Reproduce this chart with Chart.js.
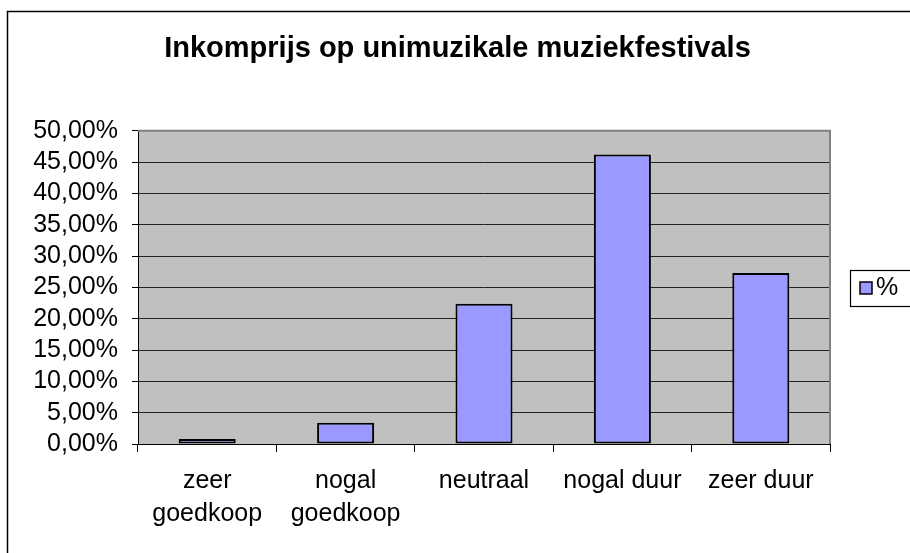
<!DOCTYPE html>
<html>
<head>
<meta charset="utf-8">
<script src="https://cdn.jsdelivr.net/npm/chart.js@4/dist/chart.umd.min.js"></script>
<style>
  html, body { margin: 0; padding: 0; background: #fff; }
  #wrap { width: 910px; height: 553px; }
</style>
</head>
<body>
<div id="wrap"><canvas id="c" width="910" height="553"></canvas></div>
<script>
const chartTitle = 'Inkomprijs op unimuzikale muziekfestivals';
const categories = [['zeer', 'goedkoop'], ['nogal', 'goedkoop'], 'neutraal', 'nogal duur', 'zeer duur'];
const seriesLabel = '%';
const seriesValues = [0.8, 3.4, 22.4, 46.2, 27.3];
const yTickValues = [0, 5, 10, 15, 20, 25, 30, 35, 40, 45, 50];
const yTickLabels = ['0,00%', '5,00%', '10,00%', '15,00%', '20,00%', '25,00%', '30,00%', '35,00%', '40,00%', '45,00%', '50,00%'];

const FONT = "'Liberation Sans', Arial, Helvetica, sans-serif";
Chart.defaults.font.family = FONT;
Chart.defaults.color = '#000';

const decor = {
  id: 'decor',
  beforeDraw(chart) {
    const { ctx, chartArea: a } = chart;
    ctx.save();
    ctx.fillStyle = '#fff';
    ctx.fillRect(0, 0, chart.width, chart.height);
    ctx.strokeStyle = '#000';
    ctx.lineWidth = 1.5;
    ctx.strokeRect(7.5, 11.5, chart.width + 20, chart.height + 20);
    ctx.fillStyle = '#C0C0C0';
    ctx.fillRect(a.left, a.top, a.right - a.left, a.bottom - a.top);
    ctx.restore();
  },
  afterDraw(chart) {
    const { ctx, chartArea: a } = chart;
    ctx.save();
    ctx.strokeStyle = '#808080';
    ctx.lineWidth = 2;
    ctx.beginPath();
    ctx.moveTo(a.left, a.top);
    ctx.lineTo(a.right, a.top);
    ctx.lineTo(a.right, a.bottom);
    ctx.stroke();
    const ds = chart.data.datasets[0];
    ctx.strokeStyle = '#000';
    ctx.lineWidth = 1.2;
    ctx.strokeRect(850.5, 270.5, 100, 36);
    ctx.fillStyle = ds.backgroundColor;
    ctx.fillRect(860, 282, 12, 12);
    ctx.lineWidth = 1.5;
    ctx.strokeRect(860, 282, 12, 12);
    ctx.fillStyle = '#000';
    ctx.font = '25px ' + FONT;
    ctx.textBaseline = 'middle';
    ctx.textAlign = 'left';
    ctx.fillText(ds.label, 876, 288);
    ctx.restore();
  }
};

new Chart(document.getElementById('c'), {
  type: 'bar',
  data: {
    labels: categories,
    datasets: [{
      label: seriesLabel,
      data: seriesValues,
      backgroundColor: '#9999FF',
      borderColor: '#000',
      borderWidth: 2,
      borderSkipped: false,
      barPercentage: 0.412,
      categoryPercentage: 1
    }]
  },
  options: {
    responsive: false,
    animation: false,
    devicePixelRatio: 1,
    layout: { padding: { left: 5, right: 0, top: 0, bottom: 0 } },
    plugins: {
      legend: { display: false },
      tooltip: { enabled: false },
      title: {
        display: true,
        text: chartTitle,
        color: '#000',
        font: { size: 29, weight: 'bold', lineHeight: 1.2 },
        padding: { top: 32, bottom: 64 }
      }
    },
    scales: {
      x: {
        grid: { display: true, drawOnChartArea: false, offset: true, tickLength: 8, tickColor: '#000', tickWidth: 1 },
        border: { display: true, color: '#000', width: 1 },
        ticks: { font: { size: 25, lineHeight: 1.336 }, padding: 12, maxRotation: 0, autoSkip: false, color: '#000' },
        afterFit(s) { s.height = 109; }
      },
      y: {
        min: 0, max: 50,
        afterBuildTicks(s) { s.ticks = yTickValues.map(v => ({ value: v })); },
        grid: { color: '#222', lineWidth: 1, tickLength: 6, tickColor: '#000', tickWidth: 1 },
        border: { display: true, color: '#000', width: 1 },
        ticks: {
          font: { size: 25 }, padding: 14, color: '#000', autoSkip: false,
          callback(v) { const i = yTickValues.indexOf(v); return i >= 0 ? yTickLabels[i] : ''; }
        },
        afterFit(s) { s.width = 133; }
      },
      yR: {
        position: 'right',
        display: true,
        grid: { display: false },
        border: { display: false },
        ticks: { display: false },
        afterFit(s) { s.width = 80; }
      }
    }
  },
  plugins: [decor]
});
</script>
</body>
</html>
